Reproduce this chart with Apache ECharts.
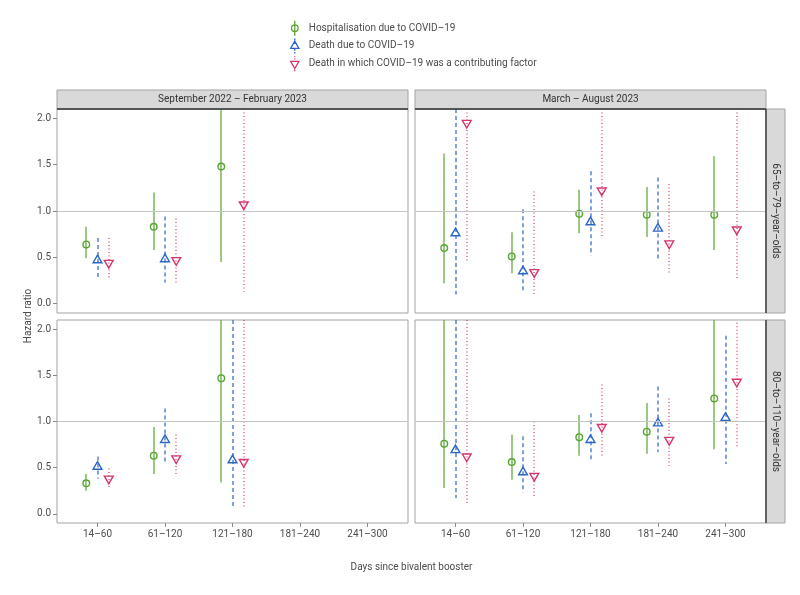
<!DOCTYPE html>
<html><head><meta charset="utf-8">
<script src="https://cdn.jsdelivr.net/npm/echarts@6/dist/echarts.min.js"></script>
<style>html,body{margin:0;padding:0;background:#fff}#c{width:800px;height:595px}</style>
</head><body><div id="c"></div><script>
// ---------- DATA ----------
const categories = ['14–60', '61–120', '121–180', '181–240', '241–300'];
const periods = ['September 2022 – February 2023', 'March – August 2023'];
const ageGroups = ['65–to–79–year–olds', '80–to–110–year–olds'];
const outcomes = ['Hospitalisation due to COVID–19', 'Death due to COVID–19', 'Death in which COVID–19 was a contributing factor'];
const yTicks = [0, 0.5, 1.0, 1.5, 2.0];
const referenceHR = 1.0;

// 65–79, Sep 2022 – Feb 2023
const a65p1_hosp_est = [0.64, 0.83, 1.48, null, null];
const a65p1_hosp_lo  = [0.49, 0.58, 0.45, null, null];
const a65p1_hosp_hi  = [0.83, 1.20, 2.50, null, null];
const a65p1_death_est = [0.47, 0.48, null, null, null];
const a65p1_death_lo  = [0.28, 0.23, null, null, null];
const a65p1_death_hi  = [0.71, 0.94, null, null, null];
const a65p1_contr_est = [0.44, 0.47, 1.07, null, null];
const a65p1_contr_lo  = [0.26, 0.23, 0.13, null, null];
const a65p1_contr_hi  = [0.71, 0.92, 2.50, null, null];

// 65–79, Mar – Aug 2023
const a65p2_hosp_est = [0.60, 0.51, 0.97, 0.96, 0.96];
const a65p2_hosp_lo  = [0.22, 0.33, 0.76, 0.72, 0.58];
const a65p2_hosp_hi  = [1.62, 0.77, 1.23, 1.26, 1.59];
const a65p2_death_est = [0.76, 0.35, 0.88, 0.81, null];
const a65p2_death_lo  = [0.10, 0.12, 0.52, 0.46, null];
const a65p2_death_hi  = [2.50, 1.02, 1.43, 1.36, null];
const a65p2_contr_est = [1.95, 0.34, 1.22, 0.65, 0.80];
const a65p2_contr_lo  = [0.45, 0.09, 0.70, 0.33, 0.25];
const a65p2_contr_hi  = [2.50, 1.21, 2.50, 1.29, 2.50];

// 80–110, Sep 2022 – Feb 2023
const a80p1_hosp_est = [0.33, 0.63, 1.47, null, null];
const a80p1_hosp_lo  = [0.25, 0.43, 0.34, null, null];
const a80p1_hosp_hi  = [0.43, 0.94, 2.50, null, null];
const a80p1_death_est = [0.51, 0.80, 0.58, null, null];
const a80p1_death_lo  = [0.38, 0.55, 0.07, null, null];
const a80p1_death_hi  = [0.62, 1.14, 2.50, null, null];
const a80p1_contr_est = [0.38, 0.60, 0.56, null, null];
const a80p1_contr_lo  = [0.29, 0.42, 0.07, null, null];
const a80p1_contr_hi  = [0.49, 0.86, 2.50, null, null];

// 80–110, Mar – Aug 2023
const a80p2_hosp_est = [0.76, 0.56, 0.83, 0.89, 1.25];
const a80p2_hosp_lo  = [0.28, 0.37, 0.63, 0.65, 0.70];
const a80p2_hosp_hi  = [2.50, 0.86, 1.07, 1.20, 2.50];
const a80p2_death_est = [0.69, 0.45, 0.80, 0.98, 1.04];
const a80p2_death_lo  = [0.17, 0.23, 0.56, 0.67, 0.54];
const a80p2_death_hi  = [2.50, 0.84, 1.09, 1.38, 1.93];
const a80p2_contr_est = [0.62, 0.41, 0.94, 0.80, 1.43];
const a80p2_contr_lo  = [0.09, 0.17, 0.62, 0.52, 0.72];
const a80p2_contr_hi  = [2.50, 1.00, 1.40, 1.25, 2.07];

// ---------- STYLE / LAYOUT ----------
const FONT = "Roboto, 'Noto Sans', sans-serif";
const colors = ['#55a630', '#2c66c4', '#d6336f'];
const dashes = [null, [4, 3], [1, 2.5]];
const dodge = [-1 / 6, 0, 1 / 6];
const gridLeft = [57, 415], gridTop = [109, 320], gridW = 351, gridH = [204, 203];

const panels = [
  { row: 0, col: 0, est: [a65p1_hosp_est, a65p1_death_est, a65p1_contr_est], lo: [a65p1_hosp_lo, a65p1_death_lo, a65p1_contr_lo], hi: [a65p1_hosp_hi, a65p1_death_hi, a65p1_contr_hi] },
  { row: 0, col: 1, est: [a65p2_hosp_est, a65p2_death_est, a65p2_contr_est], lo: [a65p2_hosp_lo, a65p2_death_lo, a65p2_contr_lo], hi: [a65p2_hosp_hi, a65p2_death_hi, a65p2_contr_hi] },
  { row: 1, col: 0, est: [a80p1_hosp_est, a80p1_death_est, a80p1_contr_est], lo: [a80p1_hosp_lo, a80p1_death_lo, a80p1_contr_lo], hi: [a80p1_hosp_hi, a80p1_death_hi, a80p1_contr_hi] },
  { row: 1, col: 1, est: [a80p2_hosp_est, a80p2_death_est, a80p2_contr_est], lo: [a80p2_hosp_lo, a80p2_death_lo, a80p2_contr_lo], hi: [a80p2_hosp_hi, a80p2_death_hi, a80p2_contr_hi] }
];

function makeRender(k) {
  return function (params, api) {
    const cs = params.coordSys;
    const x = api.value(0), est = api.value(1), lo = api.value(2), hi = api.value(3);
    const pe = api.coord([x, est]), pl = api.coord([x, lo]), ph = api.coord([x, hi]);
    const yTop = Math.max(ph[1], cs.y), yBot = Math.min(pl[1], cs.y + cs.height);
    const lx = Math.round(pe[0]); // consistent anti-aliasing for all whisker lines
    const lineStyle = { stroke: colors[k], fill: 'none', lineWidth: 1.2 };
    if (dashes[k]) lineStyle.lineDash = dashes[k].slice();
    const children = [{ type: 'line', shape: { x1: lx, y1: yTop, x2: lx, y2: yBot }, style: lineStyle }];
    const cx = pe[0], cy = pe[1];
    if (k === 0) {
      children.push({ type: 'circle', shape: { cx, cy, r: 3.3 }, style: { fill: 'none', stroke: colors[k], lineWidth: 1.4 } });
    } else {
      const s = k === 1 ? 1 : -1;
      children.push({ type: 'polygon', shape: { points: [[cx, cy - s * 5.1], [cx + 4.4, cy + s * 2.55], [cx - 4.4, cy + s * 2.55]] },
        style: { fill: 'none', stroke: colors[k], lineWidth: 1.4 } });
    }
    return { type: 'group', children };
  };
}

const grids = [], xAxes = [], yAxes = [], series = [];
const axisText = { fontFamily: FONT, fontSize: 10, color: '#4d4d4d' };
panels.forEach((p, gi) => {
  grids.push({ left: gridLeft[p.col], top: gridTop[p.row], width: gridW, height: gridH[p.row],
    show: true, borderColor: '#a3a3a3', borderWidth: 1, backgroundColor: '#fff' });
  const bottom = p.row === 1;
  xAxes.push({ type: 'value', gridIndex: gi, min: -0.6, max: 4.6, position: 'bottom',
    axisLine: { show: false, onZero: false }, splitLine: { show: false },
    axisTick: { show: bottom, customValues: [0, 1, 2, 3, 4], length: 4, lineStyle: { color: '#888' } },
    axisLabel: { show: bottom, customValues: [0, 1, 2, 3, 4], margin: 6, formatter: v => categories[Math.round(v)], ...axisText } });
  const left = p.col === 0;
  yAxes.push({ type: 'value', gridIndex: gi, min: -0.1, max: 2.1, position: 'left',
    axisLine: { show: false, onZero: false }, splitLine: { show: false },
    axisTick: { show: left, customValues: yTicks, length: 4, lineStyle: { color: '#888' } },
    axisLabel: { show: left, customValues: yTicks, margin: 6, formatter: v => v.toFixed(1), ...axisText } });
  outcomes.forEach((name, k) => {
    const data = categories.map((c, i) => p.est[k][i] == null ? null : [i + dodge[k], p.est[k][i], p.lo[k][i], p.hi[k][i]]).filter(Boolean);
    const s = { type: 'custom', name, xAxisIndex: gi, yAxisIndex: gi, color: colors[k], clip: false,
      data, encode: { x: 0, y: 1 }, renderItem: makeRender(k), z: 3, animation: false };
    if (k === 0) {
      s.markLine = { silent: true, symbol: 'none', animation: false, label: { show: false },
        lineStyle: { color: '#c4c4c4', width: 1, type: 'solid' }, data: [{ yAxis: referenceHR }] };
    }
    series.push(s);
  });
});

const legendIcons = [
  'path://M6,0L6,16M9.5,8A3.5,3.5,0,1,1,2.5,8A3.5,3.5,0,1,1,9.5,8',
  'path://M6,0L6,2M6,4.5L6,6M6,11L6,13M6,14.5L6,16M6,2.9L10.4,10.6L1.6,10.6Z',
  'path://M6,0L6,1M6,2.5L6,3.5M6,12L6,13M6,14.5L6,16M6,13.1L10.4,5.4L1.6,5.4Z'
];

const graphic = [];
periods.forEach((t, c) => {
  graphic.push({ type: 'rect', z: 10, shape: { x: gridLeft[c], y: 90, width: gridW, height: 19 }, style: { fill: '#d9d9d9', stroke: '#a3a3a3', lineWidth: 1 } });
  graphic.push({ type: 'text', z: 11, x: gridLeft[c] + gridW / 2, y: 99.5, style: { text: t, fontFamily: FONT, fontSize: 10, fill: '#333', align: 'center', verticalAlign: 'middle' } });
  graphic.push({ type: 'line', z: 11, shape: { x1: gridLeft[c], y1: 109, x2: gridLeft[c] + gridW, y2: 109 }, style: { stroke: '#333', lineWidth: 1.3 } });
});
ageGroups.forEach((t, r) => {
  graphic.push({ type: 'rect', z: 10, shape: { x: 766, y: gridTop[r], width: 19, height: gridH[r] }, style: { fill: '#d9d9d9', stroke: '#a3a3a3', lineWidth: 1 } });
  graphic.push({ type: 'text', z: 11, x: 775.5, y: gridTop[r] + gridH[r] / 2, rotation: -Math.PI / 2, style: { text: t, fontFamily: FONT, fontSize: 10, fill: '#333', align: 'center', verticalAlign: 'middle' } });
  graphic.push({ type: 'line', z: 11, shape: { x1: 766, y1: gridTop[r], x2: 766, y2: gridTop[r] + gridH[r] }, style: { stroke: '#333', lineWidth: 1.3 } });
});
graphic.push({ type: 'text', x: 28, y: 316, rotation: Math.PI / 2, style: { text: 'Hazard ratio', fontFamily: FONT, fontSize: 10, fill: '#4d4d4d', align: 'center', verticalAlign: 'middle' } });
graphic.push({ type: 'text', x: 411.5, y: 567, style: { text: 'Days since bivalent booster', fontFamily: FONT, fontSize: 10, fill: '#4d4d4d', align: 'center', verticalAlign: 'middle' } });

const chart = echarts.init(document.getElementById('c'), null, { renderer: 'canvas' });
chart.setOption({
  backgroundColor: '#fff',
  animation: false,
  legend: { orient: 'vertical', left: 285, top: 15, itemGap: 1.5, itemWidth: 18, itemHeight: 15, selectedMode: false,
    textStyle: { fontFamily: FONT, fontSize: 10, color: '#4d4d4d' },
    data: outcomes.map((n, k) => ({ name: n, icon: legendIcons[k], itemStyle: { color: 'rgba(0,0,0,0)', borderColor: colors[k], borderWidth: 1.3 } })) },
  grid: grids, xAxis: xAxes, yAxis: yAxes, series, graphic
});
</script></body></html>
